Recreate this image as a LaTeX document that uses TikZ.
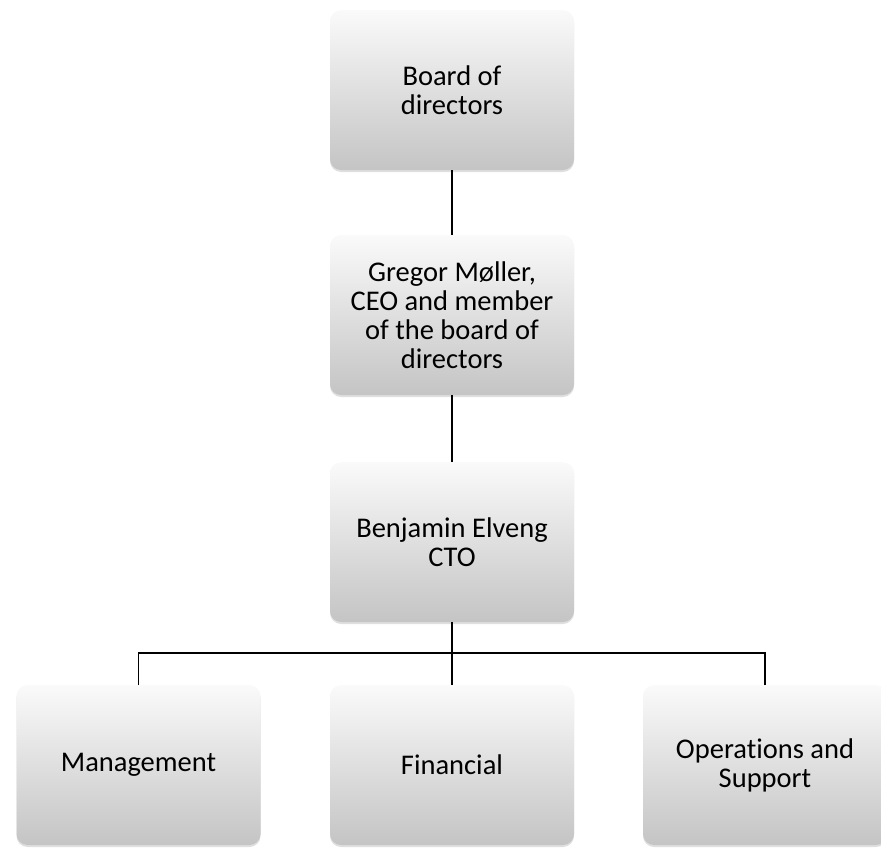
\documentclass[tikz,border=0pt]{standalone}
\usepackage{fontspec}
\setmainfont{Carlito}[Ligatures=NoCommon]
\usepackage{xcolor}
\usepackage{tikz}
\usetikzlibrary{shadows,positioning}
\tikzset{
  orgbox/.style={rounded corners=11pt, minimum width=244pt, minimum height=160pt,
    inner sep=4pt, align=center, top color=gray!4, bottom color=gray!46,
    draw=none, font=\fontsize{28.5}{29}\selectfont,
    drop shadow={opacity=0.25, shadow xshift=0pt, shadow yshift=-2pt}},
  link/.style={draw=black, line width=1.2pt},
  every picture/.style={line cap=butt, line join=miter}
}
\begin{document}
\begin{tikzpicture}[x=1pt,y=-1pt]
    \useasboundingbox (0,0) rectangle (881,847);

    \node[orgbox] (board) at (452,90) {Board of\\directors};
    \node[orgbox] (ceo) at (452,315) {Gregor Møller,\\CEO and member\\of the board of\\directors};
    \node[orgbox] (cto) at (452,542) {Benjamin Elveng\\CTO};

    \foreach \name/\x/\txt in {
      mgmt/138.5/Management,
      fin/452/Financial,
      ops/765/{Operations and\\Support}}
    {
      \node[orgbox] (\name) at (\x,765) {\txt};
    }

    \coordinate (bus) at (452,653);

    \draw[link] (board) -- (ceo);
    \draw[link] (ceo) -- (cto);
    \draw[link] (cto) -- (bus);
    \draw[link] (mgmt.north) |- (bus) -| (ops.north);
    \draw[link] (bus) -- (fin);
  \end{tikzpicture}
\end{document}
